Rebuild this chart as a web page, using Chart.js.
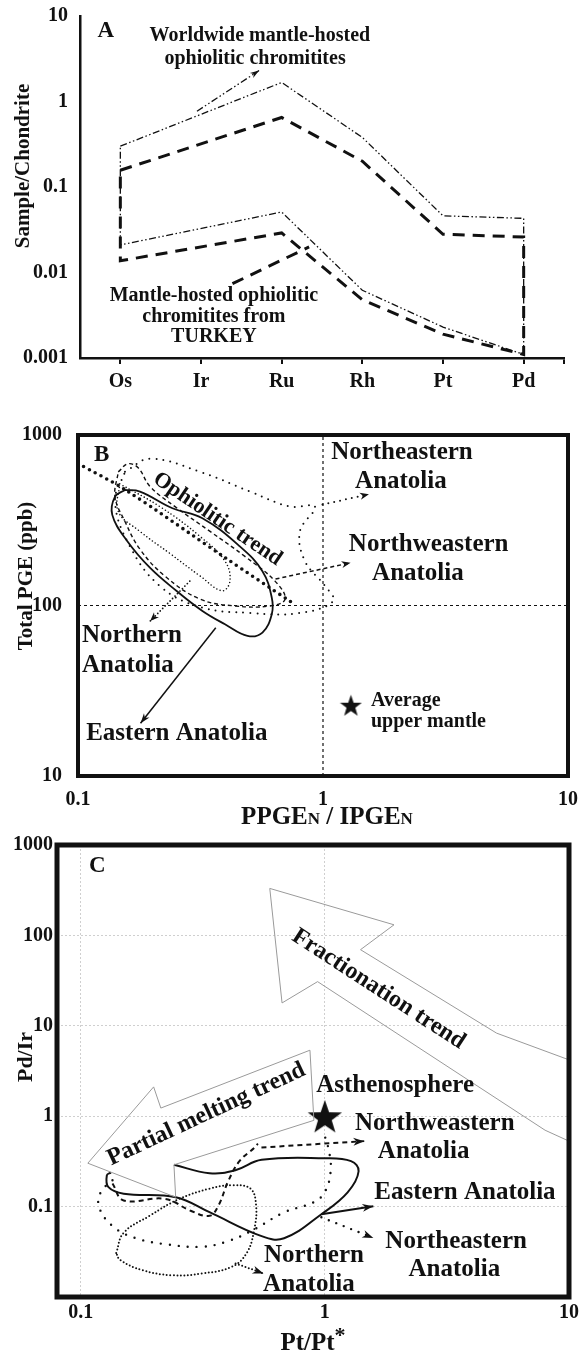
<!DOCTYPE html>
<html>
<head>
<meta charset="utf-8">
<title>PGE patterns of mantle-hosted ophiolitic chromitites</title>
<script src="https://cdn.jsdelivr.net/npm/chart.js@4.4.1/dist/chart.umd.min.js"></script>
<style>
  html, body { margin: 0; padding: 0; background: #fff; }
  #page { position: relative; width: 588px; height: 1355px; overflow: hidden; }
  canvas { position: absolute; left: 0; }
  #chartA { top: 0; }
  #chartB { top: 415px; }
  #chartC { top: 825px; }
</style>
</head>
<body>
<div id="page">
  <canvas id="chartA" width="588" height="415"></canvas>
  <canvas id="chartB" width="588" height="430"></canvas>
  <canvas id="chartC" width="588" height="530"></canvas>
</div>
<script>
// ---------- Panel A: chondrite-normalised PGE patterns ----------
const elements = ['Os', 'Ir', 'Ru', 'Rh', 'Pt', 'Pd'];
const aTickValues = [10, 1, 0.1, 0.01, 0.001];
const aTickLabels = ['10', '1', '0.1', '0.01', '0.001'];
// closed envelopes: upper limb Os -> Pd, then lower limb Pd -> Os
const worldwideEnvelope = [['Os', 0.30], ['Ru', 1.67], ['Rh', 0.38], ['Pt', 0.046], ['Pd', 0.043],
  ['Pd', 0.0011], ['Pt', 0.0023], ['Rh', 0.0062], ['Ru', 0.051], ['Os', 0.021], ['Os', 0.30]];
const turkeyEnvelope = [['Os', 0.157], ['Ru', 0.65], ['Rh', 0.2], ['Pt', 0.028], ['Pd', 0.026],
  ['Pd', 0.0011], ['Pt', 0.0019], ['Rh', 0.0048], ['Ru', 0.029], ['Os', 0.0137], ['Os', 0.157]];
// label leaders: [element position, sample/chondrite]
const worldwidePointer = [[0.95, 0.77], [1.72, 2.3]];
const turkeyPointer = [[1.39, 0.0074], [2.34, 0.0199]];

// ---------- Panel B: Total PGE vs PPGE/IPGE ----------
const bTickX = [0.1, 1, 10];
const bTickY = [1000, 100, 10];
const bDividerX = [[1, 10], [1, 1000]];
const bDividerY = [[0.1, 100], [10, 100]];
const ophioliticTrend = [[0.1, 680], [0.155, 480], [0.4, 190], [0.74, 105]];
const bEastern = [[0.1555, 476], [0.179, 466], [0.243, 372], [0.322, 325], [0.458, 222], [0.566, 159],
  [0.618, 111], [0.618, 88.9], [0.566, 69.4], [0.492, 66.3], [0.398, 77.6], [0.322, 92.9], [0.252, 122],
  [0.197, 166], [0.159, 238], [0.138, 340], [0.1416, 435], [0.1555, 476]];
const bNorthern = [[0.148, 517], [0.216, 380], [0.315, 254], [0.398, 182], [0.417, 139], [0.387, 122],
  [0.315, 149], [0.237, 202], [0.179, 272], [0.146, 356], [0.148, 517]];
const bNorthwestern = [[0.146, 608], [0.16, 678], [0.176, 642], [0.197, 498], [0.249, 380], [0.346, 272],
  [0.48, 194], [0.637, 139], [0.70, 109], [0.608, 99.4], [0.438, 99.4], [0.315, 109], [0.226, 149],
  [0.179, 214], [0.1555, 311], [0.1416, 435], [0.146, 608]];
const bNortheastern = [[0.1555, 608], [0.197, 725], [0.315, 608], [0.504, 466], [0.733, 380], [0.927, 380],
  [0.805, 272], [0.844, 182], [1.02, 130], [1.1, 106], [0.805, 90.4], [0.504, 90.4], [0.315, 98],
  [0.216, 130], [0.163, 222], [0.1416, 406], [0.1555, 608]];
const bEasternArrow = [[0.365, 74.1], [0.18, 20.4]];
const bNorthernArrow = [[0.286, 139], [0.197, 81]];
const bNorthwesternArrow = [[0.64, 143], [1.296, 178]];
const bNortheasternArrow = [[0.995, 391], [1.54, 449]];
const upperMantle = [[1.30, 26]];

// ---------- Panel C: Pd/Ir vs Pt/Pt* ----------
const cTickX = [0.1, 1, 10];
const cTickY = [1000, 100, 10, 1, 0.1];
const fractionationArrow = [[0.595, 331], [1.92, 131], [1.40, 69.5], [5.05, 8.3], [10, 4.2], [10, 0.53],
  [7.98, 0.70], [0.934, 30.8], [0.668, 17.9], [0.595, 331]];
const partialMeltingArrow = [[0.107, 0.302], [0.199, 2.11], [0.213, 1.23], [0.869, 5.37], [0.902, 0.90],
  [0.241, 0.29], [0.245, 0.127], [0.107, 0.302]];
const cEastern = [[0.241, 0.290], [0.337, 0.234], [0.430, 0.253], [0.551, 0.330], [1.0, 0.343], [1.28, 0.318],
  [1.375, 0.246], [1.24, 0.144], [0.968, 0.0824], [0.681, 0.0447], [0.551, 0.0471], [0.337, 0.0867],
  [0.245, 0.127], [0.150, 0.139], [0.130, 0.164], [0.128, 0.222], [0.133, 0.238]];
const cNorthwestern = [[0.135, 0.18], [0.150, 0.117], [0.221, 0.122], [0.282, 0.090], [0.337, 0.079],
  [0.367, 0.103], [0.401, 0.188], [0.447, 0.318], [0.514, 0.447], [0.532, 0.497]];
const cNortheastern = [[0.135, 0.196], [0.121, 0.145], [0.119, 0.0985], [0.135, 0.061], [0.167, 0.045],
  [0.229, 0.038], [0.314, 0.036], [0.401, 0.0414], [0.514, 0.056], [0.681, 0.0863], [0.902, 0.112],
  [1.0, 0.145], [1.056, 0.244], [1.04, 0.41], [0.984, 0.69]];
const cNorthern = [[0.1398, 0.0307], [0.150, 0.0513], [0.192, 0.0793], [0.254, 0.122], [0.337, 0.158],
  [0.416, 0.1725], [0.496, 0.158], [0.523, 0.1026], [0.514, 0.056], [0.479, 0.0307], [0.416, 0.0216],
  [0.314, 0.0182], [0.237, 0.0174], [0.179, 0.0198], [0.145, 0.0257], [0.1398, 0.0307]];
const cEasternArrow = [[0.968, 0.0824], [1.58, 0.101]];
const cNorthwesternArrow = [[0.55, 0.45], [1.45, 0.53]];
const cNortheasternArrow = [[0.968, 0.0763], [1.58, 0.045]];
const cNorthernArrow = [[0.431, 0.0235], [0.561, 0.0182]];
const asthenosphere = [[1, 1]];

// ---------- shared drawing helpers ----------
const FONT = '"Liberation Serif", "Times New Roman", serif';
const INK = '#111';

function starSprite(size) {
  const c = document.createElement('canvas');
  c.width = c.height = size;
  const g = c.getContext('2d');
  const r = size / 2, ri = r * 0.4;
  const shift = (r - r * Math.cos(Math.PI / 5)) / 2;
  g.fillStyle = INK;
  g.beginPath();
  for (let k = 0; k < 10; k++) {
    const rad = k % 2 ? ri : r;
    const a = -Math.PI / 2 + k * Math.PI / 5;
    g.lineTo(r + rad * Math.cos(a), r + rad * Math.sin(a) + shift);
  }
  g.closePath();
  g.fill();
  return c;
}

function line(pts, style) {
  return Object.assign({
    data: pts.map(([x, y]) => ({ x, y })),
    showLine: true, pointRadius: 0, pointHoverRadius: 0,
    borderColor: INK, borderWidth: 1.5, tension: 0, fill: false
  }, style);
}

function drawHead(ctx, a, b, len, wid, color) {
  const ang = Math.atan2(b.y - a.y, b.x - a.x);
  ctx.save();
  ctx.translate(b.x, b.y);
  ctx.rotate(ang);
  ctx.fillStyle = color;
  ctx.beginPath();
  ctx.moveTo(0, 0);
  ctx.lineTo(-len, -wid / 2);
  ctx.lineTo(-len * 0.7, 0);
  ctx.lineTo(-len, wid / 2);
  ctx.closePath();
  ctx.fill();
  ctx.restore();
}

// labels in data space, axis titles and the panel frame
function notes(cfg) {
  return {
    id: 'notes',
    afterDatasetsDraw(chart) {
      const { ctx } = chart;
      const xs = chart.scales.x, ys = chart.scales.y;
      chart.data.datasets.forEach((ds, i) => {
        if (!ds.arrowHead) return;
        const pts = chart.getDatasetMeta(i).data;
        drawHead(ctx, pts[pts.length - 2], pts[pts.length - 1], ds.arrowHead[0], ds.arrowHead[1], INK);
      });
      (cfg.items || []).forEach(n => {
        ctx.save();
        ctx.translate(xs.getPixelForValue(n.x), ys.getPixelForValue(n.y));
        if (n.rot) ctx.rotate(n.rot * Math.PI / 180);
        ctx.font = `bold ${n.size}px ${FONT}`;
        ctx.fillStyle = INK;
        ctx.textAlign = n.align || 'center';
        ctx.textBaseline = 'middle';
        ctx.fillText(n.t, 0, 0);
        ctx.restore();
      });
    },
    afterDraw(chart) {
      const { ctx, chartArea: ca } = chart;
      if (cfg.frame) {
        ctx.save();
        ctx.strokeStyle = INK;
        ctx.lineWidth = cfg.frame;
        ctx.strokeRect(ca.left, ca.top, ca.right - ca.left, ca.bottom - ca.top);
        ctx.restore();
      }
      (cfg.titles || []).forEach(t => {
        ctx.save();
        ctx.translate(t.x, t.y);
        if (t.rot) ctx.rotate(t.rot * Math.PI / 180);
        ctx.fillStyle = INK;
        ctx.textBaseline = 'alphabetic';
        ctx.textAlign = 'left';
        let w = 0;
        t.runs.forEach(([s, size]) => { ctx.font = `bold ${size}px ${FONT}`; w += ctx.measureText(s).width; });
        let x = -w / 2;
        t.runs.forEach(([s, size, dy]) => {
          ctx.font = `bold ${size}px ${FONT}`;
          ctx.fillText(s, x, t.base + (dy || 0));
          x += ctx.measureText(s).width;
        });
        ctx.restore();
      });
    }
  };
}

function fixedTicks(values) {
  return scale => { scale.ticks = values.map(v => ({ value: v })); };
}

function build() {
  Chart.defaults.font.family = FONT;
  Chart.defaults.font.weight = 'bold';
  Chart.defaults.font.size = 20;
  Chart.defaults.color = INK;
  Chart.defaults.animation = false;
  const common = {
    responsive: false,
    animation: false,
    events: [],
    plugins: { legend: { display: false }, tooltip: { enabled: false } }
  };

  // ----- Panel A -----
  const idx = name => elements.indexOf(name);
  const ddd = [7, 2.5, 1.5, 2.5, 1.5, 2.5];
  // tick marks under every element plus one closing the axis on the right
  const aTickPositions = elements.map((_, i) => i).concat([elements.length - 0.5]);
  new Chart(document.getElementById('chartA'), {
    type: 'scatter',
    data: {
      datasets: [
        line(worldwideEnvelope.map(([e, v]) => [idx(e), v]), { borderWidth: 1.3, borderDash: ddd }),
        line(turkeyEnvelope.map(([e, v]) => [idx(e), v]), { borderWidth: 3, borderDash: [12, 8] }),
        line(worldwidePointer, { borderWidth: 1.3, borderDash: ddd, arrowHead: [9, 6] }),
        line(turkeyPointer, { borderWidth: 3, borderDash: [12, 8] })
      ]
    },
    options: Object.assign({}, common, {
      layout: { padding: { top: 13, right: 24, left: 0, bottom: 0 } },
      scales: {
        x: {
          type: 'linear', min: -0.5, max: 5.5,
          afterBuildTicks: fixedTicks(aTickPositions),
          afterFit: s => { s.height = 57; },
          ticks: { callback: v => (Number.isInteger(v) ? elements[v] : ''), padding: 6, font: { size: 20 } },
          grid: { drawOnChartArea: false, drawTicks: true, tickLength: 6, color: INK, lineWidth: 2 },
          border: { display: true, color: INK, width: 2.5 }
        },
        y: {
          type: 'logarithmic', min: 0.001, max: 10,
          afterBuildTicks: fixedTicks(aTickValues),
          afterFit: s => { s.width = 80; },
          ticks: { callback: (v, i) => aTickLabels[i], padding: 4, font: { size: 20 } },
          grid: { display: false },
          border: { display: true, color: INK, width: 2.5 }
        }
      }
    }),
    plugins: [notes({
      items: [
        { t: 'A', x: -0.18, y: 6.7, size: 23 },
        { t: 'Worldwide mantle-hosted', x: 1.73, y: 5.87, size: 20 },
        { t: 'ophiolitic chromitites', x: 1.67, y: 3.16, size: 20 },
        { t: 'Mantle-hosted ophiolitic', x: 1.16, y: 0.00537, size: 20 },
        { t: 'chromitites from', x: 1.16, y: 0.00307, size: 20 },
        { t: 'TURKEY', x: 1.16, y: 0.00175, size: 20 }
      ],
      titles: [{ x: 22, y: 166, rot: -90, base: 7, runs: [['Sample/Chondrite', 21]] }]
    })]
  });

  // ----- Panel B -----
  const dividerStyle = { borderWidth: 1.2, borderDash: [3, 3] };
  new Chart(document.getElementById('chartB'), {
    type: 'scatter',
    data: {
      datasets: [
        line(bDividerX, dividerStyle),
        line(bDividerY, dividerStyle),
        line(bNortheastern, { borderWidth: 2, borderDash: [0, 7], borderCapStyle: 'round', tension: 0.4 }),
        line(bNorthwestern, { borderWidth: 1.4, borderDash: [4, 3], tension: 0.4 }),
        line(bNorthern, { borderWidth: 1.6, borderDash: [0, 3.5], borderCapStyle: 'round', tension: 0.4 }),
        line(bEastern, { borderWidth: 1.8, tension: 0.4 }),
        line(ophioliticTrend, { borderWidth: 3.6, borderDash: [0, 6.5], borderCapStyle: 'round', tension: 0.3 }),
        line(bEasternArrow, { borderWidth: 1.5, arrowHead: [10, 7] }),
        line(bNorthernArrow, { borderWidth: 1.8, borderDash: [0, 3.5], borderCapStyle: 'round', arrowHead: [9, 7] }),
        line(bNorthwesternArrow, { borderWidth: 1.5, borderDash: [4, 3], arrowHead: [9, 7] }),
        line(bNortheasternArrow, { borderWidth: 2, borderDash: [0, 6], borderCapStyle: 'round', arrowHead: [9, 7] }),
        { data: upperMantle.map(([x, y]) => ({ x, y })), pointStyle: starSprite(23), pointRadius: 11, showLine: false }
      ]
    },
    options: Object.assign({}, common, {
      layout: { padding: { top: 17, right: 20, left: 0, bottom: 0 } },
      scales: {
        x: {
          type: 'logarithmic', min: 0.1, max: 10,
          afterBuildTicks: fixedTicks(bTickX),
          afterFit: s => { s.height = 69; },
          ticks: { callback: (v, i) => String(bTickX[i]), padding: 4, maxRotation: 0, font: { size: 20 } },
          grid: { display: false },
          border: { display: false }
        },
        y: {
          type: 'logarithmic', min: 10, max: 1000,
          afterBuildTicks: fixedTicks(bTickY),
          afterFit: s => { s.width = 78; },
          ticks: { callback: (v, i) => String(bTickY[i]), padding: 8, font: { size: 20 } },
          grid: { display: false },
          border: { display: false }
        }
      }
    }),
    plugins: [notes({
      frame: 4,
      items: [
        { t: 'B', x: 0.125, y: 765, size: 23 },
        { t: 'Northeastern', x: 2.1, y: 794, size: 25 },
        { t: 'Anatolia', x: 2.08, y: 532, size: 25 },
        { t: 'Northweastern', x: 2.70, y: 229, size: 25 },
        { t: 'Anatolia', x: 2.44, y: 155, size: 25 },
        { t: 'Northern', x: 0.1038, y: 66.4, size: 25, align: 'left' },
        { t: 'Anatolia', x: 0.1038, y: 44.4, size: 25, align: 'left' },
        { t: 'Eastern Anatolia', x: 0.108, y: 17.8, size: 25, align: 'left' },
        { t: 'Average', x: 1.57, y: 27.5, size: 20, align: 'left' },
        { t: 'upper mantle', x: 1.57, y: 20.7, size: 20, align: 'left' },
        { t: 'Ophiolitic trend', x: 0.371, y: 321, size: 22, rot: 34 }
      ],
      titles: [
        { x: 25, y: 161, rot: -90, base: 7, runs: [['Total PGE (ppb)', 21]] },
        { x: 327, y: 400, base: 9, runs: [['PPGE', 25], ['N', 17], [' / IPGE', 25], ['N', 17]] }
      ]
    })]
  });

  // ----- Panel C -----
  new Chart(document.getElementById('chartC'), {
    type: 'scatter',
    data: {
      datasets: [
        line(fractionationArrow, { borderColor: '#9a9a9a', borderWidth: 1 }),
        line(partialMeltingArrow, { borderColor: '#9a9a9a', borderWidth: 1 }),
        line(cNortheastern, { borderWidth: 2.4, borderDash: [0, 9], borderCapStyle: 'round', tension: 0.4 }),
        line(cNorthern, { borderWidth: 2, borderDash: [0, 3.5], borderCapStyle: 'round', tension: 0.4 }),
        line(cNorthwestern, { borderWidth: 2, borderDash: [5, 4], tension: 0.4 }),
        line(cEastern, { borderWidth: 2, tension: 0.4 }),
        line(cEasternArrow, { borderWidth: 2, arrowHead: [11, 8] }),
        line(cNorthwesternArrow, { borderWidth: 2, borderDash: [5, 4], arrowHead: [11, 8] }),
        line(cNortheasternArrow, { borderWidth: 2.4, borderDash: [0, 8], borderCapStyle: 'round', arrowHead: [11, 8] }),
        line(cNorthernArrow, { borderWidth: 2, borderDash: [0, 3.5], borderCapStyle: 'round', arrowHead: [11, 8] }),
        { data: asthenosphere.map(([x, y]) => ({ x, y })), pointStyle: starSprite(36), pointRadius: 18, showLine: false }
      ]
    },
    options: Object.assign({}, common, {
      layout: { padding: { top: 20, right: 19, left: 0, bottom: 0 } },
      scales: {
        x: {
          type: 'logarithmic', min: 0.08, max: 10,
          afterBuildTicks: fixedTicks(cTickX),
          afterFit: s => { s.height = 58; },
          ticks: { callback: (v, i) => String(cTickX[i]), padding: 4, maxRotation: 0, font: { size: 20 } },
          grid: { color: '#cfcfcf', lineWidth: 1, drawTicks: false },
          border: { display: false, dash: [2, 2] }
        },
        y: {
          type: 'logarithmic', min: 0.01, max: 1000,
          afterBuildTicks: fixedTicks(cTickY),
          afterFit: s => { s.width = 57; },
          ticks: { callback: (v, i) => String(cTickY[i]), padding: 4, font: { size: 20 } },
          grid: { color: '#cfcfcf', lineWidth: 1, drawTicks: false },
          border: { display: false, dash: [2, 2] }
        }
      }
    }),
    plugins: [notes({
      frame: 5,
      items: [
        { t: 'C', x: 0.117, y: 583, size: 23 },
        { t: 'Fractionation trend', x: 1.66, y: 25.4, size: 24, rot: 33 },
        { t: 'Partial melting trend', x: 0.327, y: 1.05, size: 24, rot: -25 },
        { t: 'Asthenosphere', x: 1.94, y: 2.2, size: 25 },
        { t: 'Northweastern', x: 2.82, y: 0.837, size: 25 },
        { t: 'Anatolia', x: 2.54, y: 0.41, size: 25 },
        { t: 'Eastern Anatolia', x: 3.75, y: 0.144, size: 25 },
        { t: 'Northeastern', x: 3.45, y: 0.0414, size: 25 },
        { t: 'Anatolia', x: 3.39, y: 0.02, size: 25 },
        { t: 'Northern', x: 0.902, y: 0.029, size: 25 },
        { t: 'Anatolia', x: 0.861, y: 0.0139, size: 25 }
      ],
      titles: [
        { x: 24, y: 232, rot: -90, base: 8, runs: [['Pd/Ir', 22]] },
        { x: 313, y: 516, base: 9, runs: [['Pt/Pt', 25], ['*', 22, -8]] }
      ]
    })]
  });
}

if (document.fonts && document.fonts.load) {
  Promise.all([
    document.fonts.load(`bold 20px ${FONT}`),
    document.fonts.load(`20px ${FONT}`)
  ]).then(build, build);
} else {
  build();
}
</script>
</body>
</html>
